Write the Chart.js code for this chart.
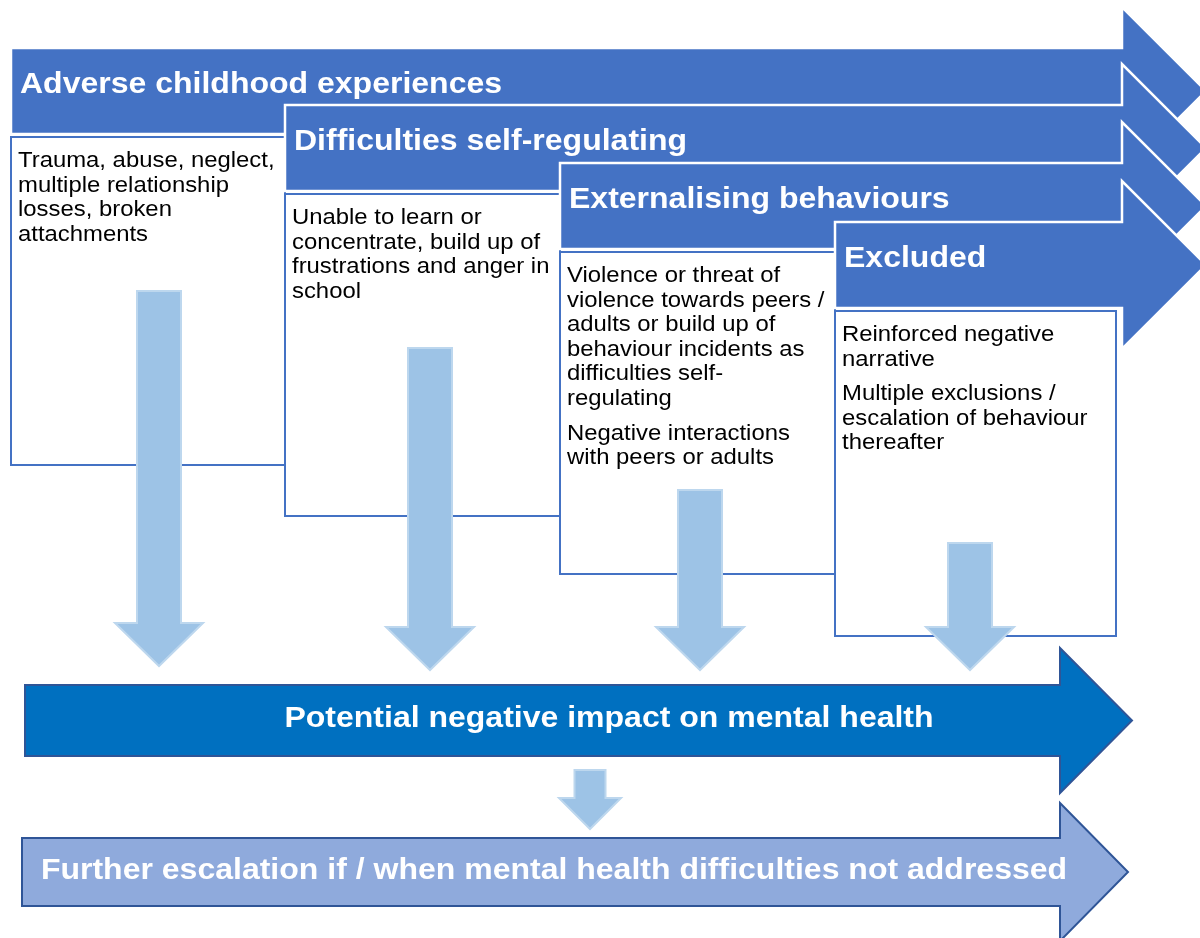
<!DOCTYPE html>
<html>
<head>
<meta charset="utf-8">
<script src="https://cdn.jsdelivr.net/npm/chart.js@4.4.1/dist/chart.umd.min.js"></script>
<style>
  body { margin: 0; background: #fff; }
</style>
</head>
<body>
<canvas id="flow" width="1200" height="938"></canvas>
<script>
// diagram content
const stageTitles = [
  "Adverse childhood experiences",
  "Difficulties self-regulating",
  "Externalising behaviours",
  "Excluded"
];
const stageNotes = [
  [["Trauma, abuse, neglect,", "multiple relationship", "losses, broken", "attachments"]],
  [["Unable to learn or", "concentrate, build up of", "frustrations and anger in", "school"]],
  [["Violence or threat of", "violence towards peers /", "adults or build up of", "behaviour incidents as", "difficulties self-", "regulating"],
   ["Negative interactions", "with peers or adults"]],
  [["Reinforced negative", "narrative"],
   ["Multiple exclusions /", "escalation of behaviour", "thereafter"]]
];
const impactLabel = "Potential negative impact on mental health";
const escalationLabel = "Further escalation if / when mental health difficulties not addressed";

// layout (pixels in the 1200 x 938 scale space)
const L = {
  stageX: [11, 285, 560, 835],
  headTop: [48, 105, 163, 222],
  headH: 86,
  headEnd: 1122,
  headFlare: 41,
  boxW: [274, 275, 275, 281],
  boxH: [328, 322, 322, 325],
  downX: [159, 430, 700, 970],
  downTop: [291, 348, 490, 543],
  downTip: [666, 670, 670, 670]
};

const BLUE = "#4472C4";
// the source text is slightly widened, so draw with a horizontal stretch
const TITLE_FONT = "bold 29.5px 'Liberation Sans', Arial, sans-serif";
const NOTE_FONT = "22px 'Liberation Sans', Arial, sans-serif";
const STRETCH = 1.085;

function poly(ctx, X, Y, pts) {
  ctx.beginPath();
  pts.forEach((p, i) => i ? ctx.lineTo(X(p[0]), Y(p[1])) : ctx.moveTo(X(p[0]), Y(p[1])));
  ctx.closePath();
}

function rightArrow(x0, top, bottom, end, flare, tipLen) {
  const mid = (top + bottom) / 2;
  return [[x0, top], [end, top], [end, top - flare], [end + tipLen, mid],
          [end, bottom + flare], [end, bottom], [x0, bottom]];
}

function downArrow(cx, top, tip, shaftW, headW, headH) {
  const hb = tip - headH;
  return [[cx - shaftW / 2, top], [cx + shaftW / 2, top], [cx + shaftW / 2, hb],
          [cx + headW / 2, hb], [cx, tip], [cx - headW / 2, hb], [cx - shaftW / 2, hb]];
}

function text(ctx, str, px, py, font, color, align) {
  ctx.save();
  ctx.font = font;
  ctx.fillStyle = color;
  ctx.textAlign = align;
  ctx.textBaseline = "middle";
  ctx.translate(px, py);
  ctx.scale(STRETCH, 1);
  ctx.fillText(str, 0, 0);
  ctx.restore();
}

const diagram = {
  id: "diagram",
  afterDraw(chart) {
    const ctx = chart.ctx;
    const X = v => chart.scales.x.getPixelForValue(v);
    const Y = v => chart.scales.y.getPixelForValue(v);
    ctx.save();
    ctx.lineJoin = "miter";

    stageTitles.forEach((title, i) => {
      const x0 = L.stageX[i], top = L.headTop[i], bottom = top + L.headH;
      // header arrow
      poly(ctx, X, Y, rightArrow(x0, top, bottom, L.headEnd, L.headFlare, L.headH / 2 + L.headFlare));
      ctx.fillStyle = BLUE;
      ctx.fill();
      ctx.strokeStyle = "#ffffff";
      ctx.lineWidth = 2.5;
      ctx.stroke();

      text(ctx, title, X(x0 + 9), Y(top + 36.5), TITLE_FONT, "#ffffff", "left");

      // note box
      const bt = bottom + 3;
      ctx.fillStyle = "#ffffff";
      ctx.fillRect(X(x0) - 1, Y(bt) - 1, X(x0 + L.boxW[i]) - X(x0) + 2, Y(bt + L.boxH[i]) - Y(bt) + 2);
      ctx.strokeStyle = BLUE;
      ctx.lineWidth = 2;
      ctx.strokeRect(X(x0), Y(bt), X(x0 + L.boxW[i]) - X(x0), Y(bt + L.boxH[i]) - Y(bt));

      let y = bt + 24;
      stageNotes[i].forEach(par => {
        par.forEach(line => {
          text(ctx, line, X(x0 + 7), Y(y), NOTE_FONT, "#000000", "left");
          y += 24.6;
        });
        y += 10;
      });
    });

    // light down arrows
    L.downX.forEach((cx, i) => {
      poly(ctx, X, Y, downArrow(cx, L.downTop[i], L.downTip[i], 44, 88, 43));
      ctx.fillStyle = "#9DC3E6";
      ctx.fill();
      ctx.strokeStyle = "#BDD7EE";
      ctx.lineWidth = 2;
      ctx.stroke();
    });

    // impact arrow
    poly(ctx, X, Y, rightArrow(25, 685, 756, 1060, 37, 72));
    ctx.fillStyle = "#0070C0";
    ctx.fill();
    ctx.strokeStyle = "#2F5597";
    ctx.lineWidth = 2;
    ctx.stroke();
    text(ctx, impactLabel, X(609), Y(718.5), TITLE_FONT, "#ffffff", "center");

    // small connector arrow
    poly(ctx, X, Y, downArrow(590, 770, 829, 31, 62, 31));
    ctx.fillStyle = "#9DC3E6";
    ctx.fill();
    ctx.strokeStyle = "#BDD7EE";
    ctx.lineWidth = 2;
    ctx.stroke();

    // escalation arrow
    poly(ctx, X, Y, rightArrow(22, 838, 906, 1060, 35, 68));
    ctx.fillStyle = "#8FAADC";
    ctx.fill();
    ctx.strokeStyle = "#2F5597";
    ctx.lineWidth = 2;
    ctx.stroke();
    text(ctx, escalationLabel, X(554), Y(871), TITLE_FONT, "#ffffff", "center");

    ctx.restore();
  }
};

new Chart(document.getElementById("flow"), {
  type: "scatter",
  data: { datasets: [{ data: [] }] },
  options: {
    responsive: false,
    animation: false,
    layout: { padding: 0 },
    plugins: { legend: { display: false }, tooltip: { enabled: false } },
    scales: {
      x: { type: "linear", min: 0, max: 1200, display: false },
      y: { type: "linear", min: 0, max: 938, reverse: true, display: false }
    }
  },
  plugins: [diagram]
});
</script>
</body>
</html>
